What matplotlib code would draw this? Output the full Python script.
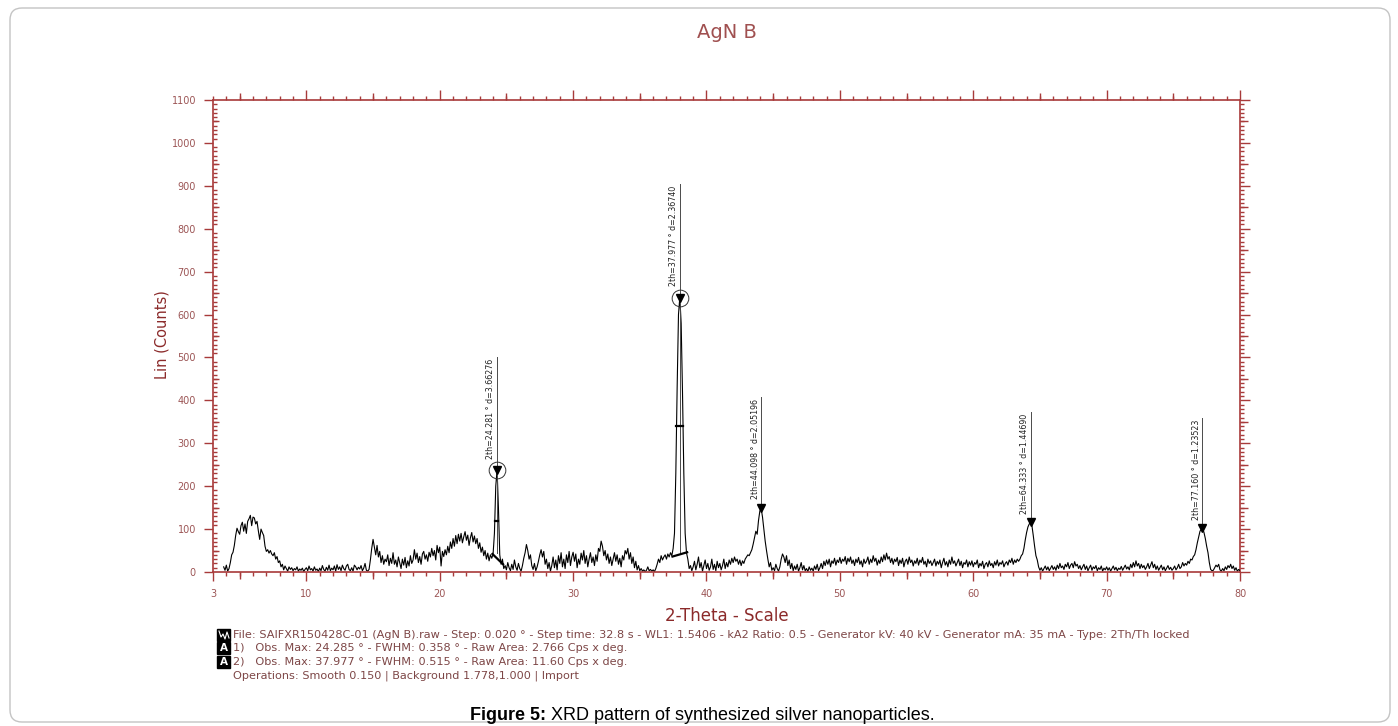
import numpy as np
import matplotlib
matplotlib.use("Agg")
import matplotlib.pyplot as plt
from matplotlib.patches import FancyBboxPatch, Rectangle
from matplotlib.lines import Line2D
from matplotlib.ticker import FixedLocator, MultipleLocator, NullFormatter

plt.rcParams['font.family'] = ['DejaVu Sans']

# ---------------- data ----------------
start_2theta = 3.8
step_2theta = 0.1
counts = [
    12, 4,                                              # 3.8-3.9
    16, 2, 8, 22, 40, 46, 62, 85, 102, 94,              # 4
    88, 108, 116, 95, 112, 90, 118, 124, 132, 108,      # 5
    128, 126, 112, 118, 96, 76, 100, 92, 85, 60,        # 6
    48, 52, 44, 50, 42, 38, 45, 30, 36, 22,             # 7
    26, 12, 18, 5, 14, 8, 2, 12, 6, 10,                 # 8
    3, 8, 5, 12, 2, 7, 4, 9, 1, 6,                      # 9
    10, 3, 14, 5, 8, 2, 12, 4, 7, 1,                    # 10
    9, 3, 15, 6, 2, 11, 4, 16, 3, 9,                    # 11
    5, 14, 2, 17, 6, 12, 3, 16, 8, 4,                   # 12
    14, 18, 6, 3, 10, 2, 16, 12, 5, 11,                 # 13
    7, 15, 3, 9, 20, 4, 2, 6, 28, 55,                   # 14
    76, 58, 40, 62, 35, 48, 22, 38, 18, 30,             # 15
    24, 40, 15, 32, 20, 45, 18, 28, 12, 35,             # 16
    22, 8, 30, 16, 34, 10, 26, 14, 38, 20,              # 17
    28, 52, 30, 44, 22, 36, 18, 42, 48, 30,             # 18
    40, 25, 46, 35, 55, 38, 50, 28, 62, 45,             # 19
    58, 14, 48, 36, 52, 40, 60, 45, 70, 55,             # 20
    78, 60, 85, 66, 88, 72, 90, 68, 82, 94,             # 21
    74, 86, 62, 80, 92, 70, 84, 66, 78, 55,             # 22
    68, 46, 58, 38, 50, 30, 44, 26, 40, 32,             # 23
    42, 90, 200, 238, 150, 40, 18, 30, 8, 15,           # 24
    5, 22, 10, 3, 18, 6, 28, 12, 4, 20,                 # 25
    8, 2, 15, 32, 45, 64, 50, 30, 40, 15,               # 26
    6, 20, 3, 12, 25, 40, 52, 35, 48, 18,               # 27
    30, 8, 22, 2, 15, 35, 10, 28, 5, 38,                # 28
    20, 45, 12, 30, 8, 40, 22, 48, 15, 35,              # 29
    46, 25, 42, 10, 30, 18, 44, 28, 50, 20,             # 30
    38, 12, 30, 45, 22, 35, 15, 40, 25, 55,             # 31
    48, 72, 60, 38, 50, 28, 42, 20, 35, 15,             # 32
    30, 45, 25, 40, 18, 32, 12, 38, 28, 50,             # 33
    42, 55, 30, 45, 20, 35, 10, 25, 5, 15,              # 34
    3, 8, 2, 5, 1, 4, 12, 3, 6, 2,                      # 35
    5, 1, 8, 18, 30, 22, 38, 28, 35, 40,                # 36
    30, 42, 35, 45, 38, 55, 90, 230, 430, 600,          # 37
    640, 580, 420, 230, 90, 45, 30, 8, 15, 3,           # 38
    12, 25, 5, 18, 35, 10, 22, 2, 15, 28,               # 39
    8, 20, 4, 12, 30, 6, 18, 3, 25, 10,                 # 40
    20, 5, 15, 30, 8, 22, 12, 28, 18, 32,               # 41
    22, 35, 25, 30, 18, 28, 15, 26, 20, 30,             # 42
    35, 40, 38, 45, 52, 65, 80, 95, 88, 120,            # 43
    142, 148, 128, 100, 72, 50, 30, 12, 22, 4,          # 44
    10, 3, 18, 8, 2, 12, 30, 42, 35, 22,                # 45
    38, 15, 28, 8, 20, 3, 14, 6, 18, 2,                 # 46
    10, 22, 5, 15, 3, 8, 1, 12, 4, 9,                   # 47
    2, 14, 6, 18, 3, 10, 20, 8, 25, 15,                 # 48
    28, 18, 30, 12, 26, 20, 32, 16, 28, 22,             # 49
    34, 20, 30, 25, 36, 18, 32, 24, 35, 20,             # 50
    28, 15, 30, 22, 34, 18, 26, 12, 30, 20,             # 51
    25, 35, 18, 30, 22, 38, 25, 32, 16, 28,             # 52
    20, 35, 24, 40, 28, 44, 30, 36, 22, 32,             # 53
    18, 30, 24, 34, 15, 28, 20, 32, 12, 25,             # 54
    30, 18, 35, 22, 28, 14, 26, 20, 32, 16,             # 55
    28, 22, 34, 18, 25, 12, 30, 20, 26, 15,             # 56
    22, 30, 14, 25, 18, 28, 10, 22, 32, 16,             # 57
    24, 12, 28, 18, 35, 20, 26, 14, 22, 30,             # 58
    15, 25, 10, 22, 18, 28, 12, 24, 16, 26,             # 59
    12, 22, 18, 28, 10, 20, 14, 25, 8, 18,              # 60
    22, 12, 26, 15, 20, 10, 24, 16, 28, 14,             # 61
    22, 18, 26, 12, 20, 24, 16, 28, 22, 32,             # 62
    18, 28, 22, 30, 25, 30, 38, 42, 55, 75,             # 63
    92, 105, 112, 116, 108, 85, 60, 38, 28, 12,         # 64
    4, 10, 2, 8, 14, 5, 12, 3, 9, 15,                   # 65
    6, 12, 4, 16, 8, 20, 10, 14, 6, 18,                 # 66
    12, 22, 8, 16, 20, 10, 24, 14, 18, 8,               # 67
    15, 5, 12, 18, 6, 14, 3, 10, 16, 4,                 # 68
    12, 8, 15, 3, 10, 6, 14, 2, 9, 5,                   # 69
    12, 4, 10, 2, 8, 14, 5, 11, 3, 9,                   # 70
    6, 13, 4, 10, 16, 7, 12, 5, 18, 10,                 # 71
    22, 12, 26, 14, 20, 8, 18, 10, 15, 6,               # 72
    12, 20, 8, 16, 24, 10, 18, 6, 14, 4,                # 73
    10, 16, 5, 12, 3, 9, 15, 6, 11, 4,                  # 74
    8, 14, 5, 10, 18, 8, 12, 22, 14, 20,                # 75
    16, 25, 20, 30, 28, 36, 40, 52, 68, 82,             # 76
    95, 100, 102, 92, 78, 60, 45, 22, 6, 3,             # 77
    4, 10, 16, 12, 18, 5, 2, 8, 3, 12,                  # 78
    6, 15, 10, 18, 8, 14, 4, 10, 2, 6,                  # 79
    3,                                                  # 80
]
two_theta = np.round(start_2theta + step_2theta * np.arange(len(counts)), 2)

peak_2theta = [24.281, 37.977, 44.098, 64.333, 77.160]
peak_counts = [237, 638, 149, 117, 102]
peak_label_top = [500, 905, 407, 372, 358]
peak_d = ["3.66276", "2.36740", "2.05196", "1.44690", "1.23523"]
peak_circled = [True, True, False, False, False]
peak_line_base = [45, 45, None, None, None]

fwhm_2theta = [[24.16, 24.40], [37.75, 38.22]]
fwhm_counts = [118, 340]
area_2theta = [[23.95, 24.75], [37.45, 38.55]]
area_counts = [[42, 18], [36, 46]]

x_tick_labels = [3, 10, 20, 30, 40, 50, 60, 70, 80]
y_tick_labels = list(range(0, 1101, 100))

title = "AgN B"
x_label = "2-Theta - Scale"
y_label = "Lin (Counts)"
info_lines = [
    "File: SAIFXR150428C-01 (AgN B).raw - Step: 0.020 ° - Step time: 32.8 s - WL1: 1.5406 - kA2 Ratio: 0.5 - Generator kV: 40 kV - Generator mA: 35 mA - Type: 2Th/Th locked",
    "1)   Obs. Max: 24.285 ° - FWHM: 0.358 ° - Raw Area: 2.766 Cps x deg.",
    "2)   Obs. Max: 37.977 ° - FWHM: 0.515 ° - Raw Area: 11.60 Cps x deg.",
    "Operations: Smooth 0.150 | Background 1.778,1.000 | Import",
]
caption_bold = "Figure 5:"
caption_rest = " XRD pattern of synthesized silver nanoparticles."

# ---------------- style ----------------
RED = '#a83a3a'
LBL = '#9c5555'
TXT = '#8b2a2a'
INFO = '#7d4646'

W, H = 1398, 726
fig = plt.figure(figsize=(W / 100, H / 100), dpi=100)


def fx(x):
    return x / W


def fy(y):
    return 1 - y / H


def px2pt(p):
    return p * 0.72


# frame
frame = FancyBboxPatch((0.10, (H - 722) / 100), 13.80, (722 - 8) / 100,
                       boxstyle="round,pad=0,rounding_size=0.12",
                       transform=fig.dpi_scale_trans, fill=False,
                       ec='#c4c4c4', lw=1.0)
fig.patches.append(frame)

ax = fig.add_axes([fx(213), fy(572), fx(1240) - fx(213), fy(100) - fy(572)])
ax.plot(two_theta, counts, color='black', lw=0.8)
ax.set_xlim(3, 80)
ax.set_ylim(0, 1100)

for s in ['top', 'right']:
    ax.spines[s].set_visible(False)
for s in ['left', 'bottom']:
    ax.spines[s].set_color(RED)
    ax.spines[s].set_linewidth(1.2)

# bottom ticks
ax.xaxis.set_major_locator(FixedLocator(x_tick_labels))
ax.xaxis.set_minor_locator(MultipleLocator(1))
ax.tick_params(axis='x', which='major', direction='out', length=px2pt(9), width=1.0,
               color=RED, labelsize=7, labelcolor=LBL, pad=px2pt(8))
ax.tick_params(axis='x', which='minor', direction='out', length=px2pt(4), width=1.0, color=RED)
# left ticks
ax.yaxis.set_major_locator(FixedLocator(y_tick_labels))
ax.yaxis.set_minor_locator(MultipleLocator(10))
ax.tick_params(axis='y', which='major', direction='out', length=px2pt(9), width=1.0,
               color=RED, labelsize=7, labelcolor=LBL, pad=px2pt(8))
ax.tick_params(axis='y', which='minor', direction='in', length=px2pt(4), width=1.0, color=RED)

# medium ticks bottom (5s)
sb = ax.secondary_xaxis('bottom')
sb.xaxis.set_major_locator(FixedLocator(list(range(5, 80, 10))))
sb.xaxis.set_major_formatter(NullFormatter())
sb.tick_params(axis='x', which='major', direction='out', length=px2pt(7), width=1.0, color=RED)
sb.spines['bottom'].set_visible(False)

# medium ticks left (50s)
sl = ax.secondary_yaxis('left')
sl.yaxis.set_major_locator(FixedLocator(list(range(50, 1100, 100))))
sl.yaxis.set_major_formatter(NullFormatter())
sl.tick_params(axis='y', which='major', direction='in', length=px2pt(6), width=1.0, color=RED)
sl.spines['left'].set_visible(False)

# top ticks
st = ax.secondary_xaxis('top')
st.xaxis.set_major_locator(MultipleLocator(10))
st.xaxis.set_minor_locator(MultipleLocator(1))
st.xaxis.set_major_formatter(NullFormatter())
st.tick_params(axis='x', which='major', direction='out', length=px2pt(10), width=1.0, color=RED)
st.tick_params(axis='x', which='minor', direction='out', length=px2pt(4), width=1.0, color=RED)
st.spines['top'].set_color(RED)
st.spines['top'].set_linewidth(1.2)
st5 = ax.secondary_xaxis('top')
st5.xaxis.set_major_locator(FixedLocator(list(range(5, 80, 10))))
st5.xaxis.set_major_formatter(NullFormatter())
st5.tick_params(axis='x', which='major', direction='out', length=px2pt(7), width=1.0, color=RED)
st5.spines['top'].set_visible(False)

# right ticks
sr = ax.secondary_yaxis('right')
sr.yaxis.set_major_locator(MultipleLocator(100))
sr.yaxis.set_minor_locator(MultipleLocator(10))
sr.yaxis.set_major_formatter(NullFormatter())
sr.tick_params(axis='y', which='major', direction='out', length=px2pt(10), width=1.0, color=RED)
sr.tick_params(axis='y', which='minor', direction='out', length=px2pt(4), width=1.0, color=RED)
sr.spines['right'].set_color(RED)
sr.spines['right'].set_linewidth(1.2)
sr5 = ax.secondary_yaxis('right')
sr5.yaxis.set_major_locator(FixedLocator(list(range(50, 1100, 100))))
sr5.yaxis.set_major_formatter(NullFormatter())
sr5.tick_params(axis='y', which='major', direction='out', length=px2pt(8), width=1.0, color=RED)
sr5.spines['right'].set_visible(False)

# peak annotations
for x, pc, top, d, circ, base in zip(peak_2theta, peak_counts, peak_label_top,
                                     peak_d, peak_circled, peak_line_base):
    bottom = base if base is not None else pc
    ax.plot([x, x], [bottom, top], color='#4a4a4a', lw=0.7, zorder=3)
    ax.text(x - 0.12, top - 4, f"2th={x:.3f} ° d={d}", rotation=90, ha='right', va='top',
            fontsize=5.7, color='#222222', zorder=4)
    ax.plot([x], [pc], marker='v', color='black', ms=5.5, zorder=5)
    if circ:
        ax.plot([x], [pc], marker='o', mfc='none', mec='#333333', ms=12, mew=0.7, zorder=5)

for xs, yv in zip(fwhm_2theta, fwhm_counts):
    ax.plot(xs, [yv, yv], color='black', lw=1.6, zorder=4)
for xs, ys in zip(area_2theta, area_counts):
    ax.plot(xs, ys, color='black', lw=1.6, zorder=4)

# titles / labels
fig.text(fx(727), fy(32), title, ha='center', va='center', fontsize=14, color='#a05050')
fig.text(fx(727), fy(616), x_label, ha='center', va='center', fontsize=12, color=TXT)
fig.text(fx(162), fy(335), y_label, ha='center', va='center', rotation=90, fontsize=10.5, color=TXT)

# info block
info_y = [635, 648, 662, 676]
for line, yv in zip(info_lines, info_y):
    fig.text(fx(233), fy(yv), line, ha='left', va='center', fontsize=8.1, color=INFO)

# icons
for i, yv in enumerate(info_y[:3]):
    r = Rectangle(((217) / 100, (H - yv - 6) / 100), 0.13, 0.12,
                  transform=fig.dpi_scale_trans, color='black')
    fig.patches.append(r)
    if i == 0:
        zx = np.array([219, 221, 223, 225, 227, 229]) / 100
        zy = (H - yv - np.array([-4, 2, -1, 4, -3, 3])) / 100
        fig.lines.append(Line2D(zx, zy, transform=fig.dpi_scale_trans, color='white', lw=0.8))
    else:
        fig.text(fx(223.5), fy(yv), "A", ha='center', va='center', fontsize=7.5,
                 color='white', fontweight='bold')

# caption
renderer = fig.canvas.get_renderer()
t1 = fig.text(fx(470), fy(715), caption_bold, ha='left', va='center', fontsize=13,
              fontweight='bold', color='black', family='Liberation Sans')
bb = t1.get_window_extent(renderer)
fig.text(bb.x1 / W, fy(715), caption_rest, ha='left', va='center', fontsize=13,
         color='black', family='Liberation Sans')

fig.savefig("out.png", dpi=100)
